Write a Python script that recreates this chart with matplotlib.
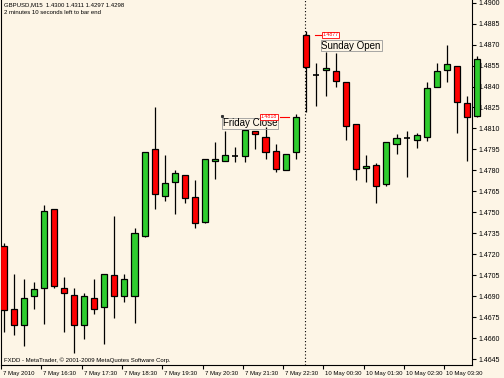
import numpy as np
import matplotlib
matplotlib.use('Agg')
import matplotlib.pyplot as plt
import matplotlib.transforms as mtransforms

plt.rcParams['font.family'] = ['Liberation Sans', 'DejaVu Sans']

# GBPUSD M15 candles, 7 May 15:30 -> 10 May 03:45
opens = [1.4726, 1.4681, 1.4669, 1.4690, 1.4696, 1.4752, 1.4696, 1.4691, 1.4669, 1.4689,
         1.4682, 1.4705, 1.4690, 1.4690, 1.4733, 1.4795, 1.4762, 1.4772, 1.4777, 1.4761,
         1.4743, 1.4787, 1.4787, 1.4790, 1.4790, 1.4808, 1.4804, 1.4794, 1.4780, 1.4793,
         1.4877, 1.4848, 1.4852, 1.4851, 1.4843, 1.4813, 1.4782, 1.4784, 1.4770, 1.4799,
         1.4803, 1.4802, 1.4804, 1.4840, 1.4852, 1.4855, 1.4828, 1.4819]
highs = [1.4728, 1.4706, 1.4702, 1.4700, 1.4755, 1.4752, 1.4704, 1.4696, 1.4692, 1.4702,
         1.4706, 1.4747, 1.4706, 1.4739, 1.4793, 1.4825, 1.4791, 1.4780, 1.4777, 1.4773,
         1.4788, 1.4800, 1.4808, 1.4797, 1.4809, 1.4808, 1.4811, 1.4799, 1.4792, 1.4820,
         1.4880, 1.4857, 1.4865, 1.4864, 1.4843, 1.4813, 1.4791, 1.4785, 1.4800, 1.4806,
         1.4808, 1.4807, 1.4843, 1.4857, 1.4870, 1.4855, 1.4833, 1.4862]
lows = [1.4664, 1.4662, 1.4654, 1.4681, 1.4670, 1.4696, 1.4664, 1.4649, 1.4659, 1.4677,
        1.4656, 1.4674, 1.4686, 1.4671, 1.4732, 1.4752, 1.4758, 1.4749, 1.4757, 1.4739,
        1.4742, 1.4774, 1.4787, 1.4786, 1.4786, 1.4795, 1.4788, 1.4779, 1.4780, 1.4788,
        1.4822, 1.4826, 1.4833, 1.4840, 1.4802, 1.4773, 1.4772, 1.4757, 1.4769, 1.4792,
        1.4775, 1.4796, 1.4801, 1.4840, 1.4843, 1.4807, 1.4787, 1.4818]
closes = [1.4680, 1.4669, 1.4689, 1.4695, 1.4751, 1.4697, 1.4692, 1.4669, 1.4690, 1.4681,
          1.4706, 1.4690, 1.4702, 1.4735, 1.4793, 1.4763, 1.4771, 1.4778, 1.4760, 1.4742,
          1.4788, 1.4788, 1.4791, 1.4790, 1.4809, 1.4806, 1.4793, 1.4781, 1.4792, 1.4818,
          1.4854, 1.4848, 1.4853, 1.4844, 1.4812, 1.4781, 1.4783, 1.4769, 1.4800, 1.4803,
          1.4803, 1.4805, 1.4839, 1.4851, 1.4856, 1.4829, 1.4818, 1.4860]

time_labels = ["7 May 2010", "7 May 16:30", "7 May 17:30", "7 May 18:30", "7 May 19:30",
               "7 May 20:30", "7 May 21:30", "7 May 22:30", "10 May 00:30", "10 May 01:30",
               "10 May 02:30", "10 May 03:30"]
label_bars = [0, 4, 8, 12, 16, 20, 24, 28, 32, 36, 40, 44]

price_ticks = [1.4645, 1.4660, 1.4675, 1.4690, 1.4705, 1.4720, 1.4735, 1.4750, 1.4765,
               1.4780, 1.4795, 1.4810, 1.4825, 1.4840, 1.4855, 1.4870, 1.4885, 1.4900]

friday_close = 1.4818
sunday_open = 1.4877
separator_bar = 30

bg = '#FDF5E6'
up_col = '#2ECC2E'
down_col = '#FF0000'

fig = plt.figure(figsize=(5.04, 3.78), dpi=100, facecolor=bg)
ax = fig.add_axes([1 / 504, 13 / 378, 471 / 504, 365 / 378], facecolor=bg)

w = 0.6
for i, (o, h, l, c) in enumerate(zip(opens, highs, lows, closes)):
    clip = i < len(opens) - 1
    ax.vlines(i, l, h, color='black', lw=0.9, zorder=2, clip_on=clip)
    if abs(c - o) < 1e-6:
        ax.hlines(o, i - w / 2, i + w / 2, color='black', lw=1.2, zorder=3, clip_on=clip)
    else:
        col = up_col if c > o else down_col
        bars = ax.bar(i, abs(c - o), bottom=min(o, c), width=w, color=col,
                      edgecolor='black', linewidth=0.9, zorder=3)
        for b in bars:
            b.set_clip_on(clip)

ax.axvline(separator_bar - 0.1, color='black', lw=0.8, ls=(0, (1, 2)), zorder=1)

ax.set_xlim(-0.149, 46.49)
ax.set_ylim(1.464071, 1.490193)

# price scale on the right
ax.yaxis.tick_right()
ax.set_yticks(price_ticks)
ax.set_yticklabels(['%.4f' % p for p in price_ticks])
ax.tick_params(axis='y', direction='out', length=3, width=0.8, labelsize=5.0, pad=2,
               colors='black')

# time scale
ax.set_xticks([b - 0.25 for b in label_bars])
ax.set_xticklabels(time_labels, ha='left')
ax.tick_params(axis='x', direction='out', length=3, width=0.8, labelsize=4.3, pad=1.5,
               colors='black')
offset = mtransforms.ScaledTranslation(2 / 100, 0, fig.dpi_scale_trans)
for lab in ax.get_xticklabels():
    lab.set_transform(lab.get_transform() + offset)

for side in ['left', 'right', 'bottom']:
    ax.spines[side].set_linewidth(0.8)
    ax.spines[side].set_color('black')
ax.spines['top'].set_visible(False)

# annotations
ax.text(21.75, 1.48172, 'Friday Close', fontsize=7.0, ha='left', va='top', color='black',
        bbox=dict(boxstyle='square,pad=0.08', fc='none', ec='#999999', lw=0.6), zorder=5)
ax.plot([21.7], [1.48188], marker='s', ms=1.2, color='#333333', zorder=6)
ax.text(31.55, 1.48728, 'Sunday Open', fontsize=7.0, ha='left', va='top', color='black',
        bbox=dict(boxstyle='square,pad=0.08', fc='none', ec='#999999', lw=0.6), zorder=5)

ax.plot([27.4, 28.3], [friday_close, friday_close], color='red', lw=0.8, zorder=5)
ax.text(25.5, friday_close + 0.00003, '%.4f' % friday_close, fontsize=3.8, ha='left',
        va='center', color='red',
        bbox=dict(boxstyle='square,pad=0.15', fc='white', ec='red', lw=0.6), zorder=6)
ax.plot([30.95, 31.55], [sunday_open, sunday_open], color='red', lw=0.8, zorder=5)
ax.text(31.65, sunday_open, '%.4f' % sunday_open, fontsize=3.8, ha='left', va='center',
        color='red', bbox=dict(boxstyle='square,pad=0.15', fc='white', ec='red', lw=0.6),
        zorder=6)

fig.text(4 / 504, 1 - 5 / 378, 'GBPUSD,M15  1.4300 1.4311 1.4297 1.4298', fontsize=4.3,
         ha='left', va='center', color='black')
fig.text(4 / 504, 1 - 13 / 378, '2 minutes 10 seconds left to bar end', fontsize=4.3,
         ha='left', va='center', color='black')
fig.text(4 / 504, 1 - 360 / 378, 'FXDD - MetaTrader, \u00a9 2001-2009 MetaQuotes Software Corp.',
         fontsize=4.3, ha='left', va='center', color='black')

fig.savefig('out.png', dpi=100, facecolor=bg)
